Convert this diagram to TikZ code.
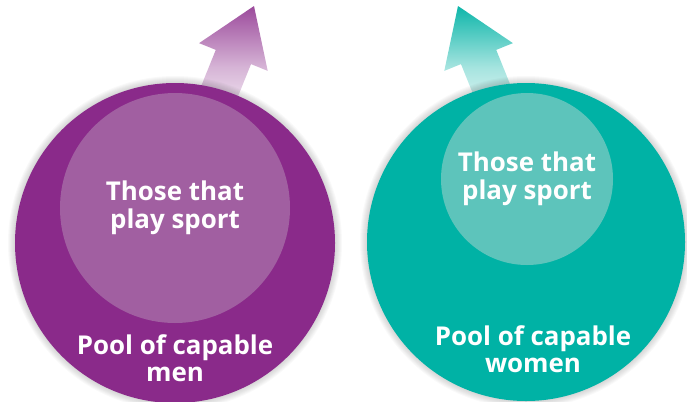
\documentclass[tikz,border=0pt]{standalone}
\usepackage{fontspec}
\setmainfont{Open Sans}
\usetikzlibrary{positioning}
\definecolor{menDark}{HTML}{8A2A8A}
\definecolor{menLight}{HTML}{A15FA1}
\definecolor{womenDark}{HTML}{00B2A5}
\definecolor{womenLight}{HTML}{5DC4BB}
\tikzset{
  pool/.style = {circle, inner sep=0pt, minimum size=#1},
  sport/.style = {circle, inner sep=0pt, minimum size=#1, align=center,
    text=white, font=\bfseries\fontsize{26}{28}\selectfont},
  lbl/.style = {align=center, text=white, inner sep=0pt,
    font=\bfseries\fontsize{26}{27}\selectfont},
  halo/.style = {fill=black, opacity=0.025}
}
\newcommand{\uparrowshape}{(0,0) -- (37,55) -- (19,55) -- (19,125)
  -- (-19,125) -- (-19,55) -- (-37,55) -- cycle}

\begin{document}
\begin{tikzpicture}[x=1bp, y=-1bp]
\useasboundingbox (0,0) rectangle (687,401);
% arrows behind the pools
\begin{scope}[shift={(254,6)}, rotate=-22]
  \shade[top color=menDark!85, bottom color=white, middle color=menDark!35] \uparrowshape;
\end{scope}
\begin{scope}[shift={(458,6)}, rotate=22]
  \shade[top color=womenDark!95, bottom color=white, middle color=womenDark!35] \uparrowshape;
\end{scope}
% soft shadows
\foreach \d in {1,...,7}{
  \fill[halo] (175,243) circle ({160bp+\d bp});
  \fill[halo] (526,242) circle ({159bp+\d bp});
}
% men
\node[pool=320bp, fill=menDark] (men) at (175,243) {};
\node[sport=230bp, fill=menLight] (mensport) at (175,208) {Those that\\play sport};
\node[lbl] (menpool) at (175,358) {Pool of capable\\men};
% women
\node[pool=318bp, fill=womenDark] (women) at (526,242) {};
\node[sport=172bp, fill=womenLight] (womensport) at (527,179) {Those that\\play sport};
\node[lbl] (womenpool) at (533,349) {Pool of capable\\women};
\end{tikzpicture}
\end{document}
